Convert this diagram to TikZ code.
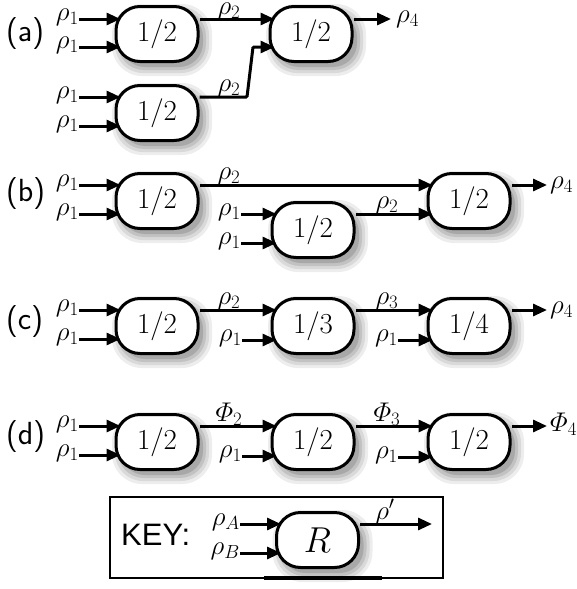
\RequirePackage{fix-cm}
\documentclass[tikz,border=0pt]{standalone}
\usepackage{amsmath}
\usepackage{fontspec}
\newfontfamily\keyfont{Liberation Sans}
\usetikzlibrary{arrows.meta,calc}
\definecolor{sh1}{gray}{0.93}
\definecolor{sh2}{gray}{0.85}
\definecolor{sh3}{gray}{0.76}
\definecolor{sh4}{gray}{0.66}
\tikzset{
  boxline/.style={draw, line width=3pt, fill=white, line join=round},
  boxtext/.style={line width=3pt, minimum width=82pt, minimum height=55pt, inner sep=0pt,
    font=\fontsize{29}{34}\selectfont},
  arr/.style={line width=3pt, -{Triangle[length=14pt,width=12pt]}, shorten >=-6pt},
  outarr/.style={line width=3pt, -{Triangle[length=14pt,width=12pt]}},
  lab/.style={inner sep=0pt, font=\fontsize{27}{32}\selectfont},
  tag/.style={inner sep=0pt, anchor=west, font=\fontsize{32}{36}\selectfont\sffamily},
}
\newcommand{\inarrow}[5]{%
  \coordinate (#1) at (#2,#3);
  \node[lab, anchor=base east] (#1t) at ($(#1)+(0,1)$) {#5};
  \draw[arr] (#1) -- (#1 -| #4.west);
}
% soft shadow under a box centred at (#1,#2), drawn before the box
\newcommand{\shbox}[2]{%
  \fill[sh1, rounded corners=30pt] (#1-43+5-7,#2-29+6-7) rectangle (#1+43+5+7,#2+29+6+7);
  \fill[sh2, rounded corners=28pt] (#1-43+5-4,#2-29+6-4) rectangle (#1+43+5+4,#2+29+6+4);
  \fill[sh3, rounded corners=26pt] (#1-43+5-1,#2-29+6-1) rectangle (#1+43+5+1,#2+29+6+1);
  \fill[sh4, rounded corners=24pt] (#1-43+5+2,#2-29+6+2) rectangle (#1+43+5-2,#2+29+6-2);
}
% rounded box (corner radius 24) with its named text node
\newcommand{\boxat}[5][]{%
  \draw[boxline] (#3-41,#4) -- (#3-41,#4-3.5)
    .. controls (#3-41,#4-16.75) and (#3-30.25,#4-27.5) .. (#3-17,#4-27.5)
    -- (#3+17,#4-27.5)
    .. controls (#3+30.25,#4-27.5) and (#3+41,#4-16.75) .. (#3+41,#4-3.5)
    -- (#3+41,#4+3.5)
    .. controls (#3+41,#4+16.75) and (#3+30.25,#4+27.5) .. (#3+17,#4+27.5)
    -- (#3-17,#4+27.5)
    .. controls (#3-30.25,#4+27.5) and (#3-41,#4+16.75) .. (#3-41,#4+3.5)
    -- cycle;
  \node[boxtext,#1] (#2) at (#3,#4) {#5};
}
\begin{document}
\begin{tikzpicture}[x=1pt,y=-1pt]
\useasboundingbox (0,0) rectangle (576,589);

% ---------- shadows ----------
\shbox{157}{34}\shbox{311}{34}\shbox{157}{113}
\shbox{157}{201}\shbox{313}{230}\shbox{469}{201}
\shbox{157}{326}\shbox{313}{326}\shbox{469}{326}
\shbox{157}{442}\shbox{313}{442}\shbox{469}{442}
\shbox{317.5}{540}

% ---------- (a) ----------
\node[tag] (ta) at (6,34) {(a)};
\boxat{a1}{157}{34}{$1/2$}
\boxat{a2}{311}{34}{$1/2$}
\boxat{a3}{157}{113}{$1/2$}
\inarrow{a1u}{79}{19}{a1}{$\rho_1$}
\inarrow{a1l}{79}{47}{a1}{$\rho_1$}
\inarrow{a3u}{79}{97}{a3}{$\rho_1$}
\inarrow{a3l}{79}{126}{a3}{$\rho_1$}
\draw[arr] (a1.east |- a1u) -- (a2.west |- a1u);
\node[lab, anchor=base] (la12) at (229,14) {$\rho_2$};
\coordinate (k1) at (247,97);
\coordinate (k2) at (253,47);
\draw[arr, rounded corners=1pt] (a3.east |- a3u) -- (k1) -- (k2) -- (a2.west |- k2);
\node[lab, anchor=base] (la32) at (229,91) {$\rho_2$};
\coordinate (oa) at (391,19);
\draw[outarr] (a2.east |- oa) -- (oa);
\node[lab, anchor=base west] (la4) at (396,22) {$\rho_4$};

% ---------- (b) ----------
\node[tag] (tb) at (6,194) {(b)};
\boxat{b1}{157}{201}{$1/2$}
\boxat{b2}{313}{230}{$1/2$}
\boxat{b3}{469}{201}{$1/2$}
\inarrow{b1u}{79}{185}{b1}{$\rho_1$}
\inarrow{b1l}{79}{214}{b1}{$\rho_1$}
\inarrow{b2u}{241}{214}{b2}{$\rho_1$}
\inarrow{b2l}{241}{243}{b2}{$\rho_1$}
\draw[arr] (b1.east |- b1u) -- (b3.west |- b1u);
\node[lab, anchor=base] (lb13) at (229,179) {$\rho_2$};
\draw[arr] (b2.east |- b2u) -- (b3.west |- b2u);
\node[lab, anchor=base] (lb23) at (387,208) {$\rho_2$};
\coordinate (ob) at (547,185);
\draw[outarr] (b3.east |- ob) -- (ob);
\node[lab, anchor=base west] (lb4) at (550,188) {$\rho_4$};

% ---------- (c) ----------
\node[tag] (tc) at (6,322) {(c)};
\boxat{c1}{157}{326}{$1/2$}
\boxat{c2}{313}{326}{$1/3$}
\boxat{c3}{469}{326}{$1/4$}
\inarrow{c1u}{79}{310}{c1}{$\rho_1$}
\inarrow{c1l}{79}{339}{c1}{$\rho_1$}
\inarrow{c2l}{242}{340}{c2}{$\rho_1$}
\inarrow{c3l}{398}{340}{c3}{$\rho_1$}
\draw[arr] (c1.east |- c1u) -- (c2.west |- c1u);
\node[lab, anchor=base] (lc12) at (229,304) {$\rho_2$};
\draw[arr] (c2.east |- c1u) -- (c3.west |- c1u);
\node[lab, anchor=base] (lc23) at (387,304) {$\rho_3$};
\coordinate (oc) at (547,310);
\draw[outarr] (c3.east |- oc) -- (oc);
\node[lab, anchor=base west] (lc4) at (550,313) {$\rho_4$};

% ---------- (d) ----------
\node[tag] (td) at (6,437) {(d)};
\boxat{d1}{157}{442}{$1/2$}
\boxat{d2}{313}{442}{$1/2$}
\boxat{d3}{469}{442}{$1/2$}
\inarrow{d1u}{79}{426}{d1}{$\rho_1$}
\inarrow{d1l}{79}{455}{d1}{$\rho_1$}
\inarrow{d2l}{242}{456}{d2}{$\rho_1$}
\inarrow{d3l}{398}{457}{d3}{$\rho_1$}
\draw[arr] (d1.east |- d1u) -- (d2.west |- d1u);
\node[lab, anchor=base] (ld12) at (229,421) {$\varPhi_2$};
\draw[arr] (d2.east |- d1u) -- (d3.west |- d1u);
\node[lab, anchor=base] (ld23) at (387,421) {$\varPhi_3$};
\coordinate (od) at (547,426);
\draw[outarr] (d3.east |- od) -- (od);
\node[lab, anchor=base west] (ld4) at (550,431) {$\varPhi_4$};

% ---------- KEY ----------
\draw[line width=2.2pt] (110,497) rectangle (443,578);
\draw[line width=4.5pt] (264,578) -- (382,578);
\node[inner sep=0pt, anchor=base west, font=\fontsize{31}{36}\selectfont\keyfont] (key) at (121,545) {KEY:};
\boxat[font=\fontsize{36}{42}\selectfont]{R}{317.5}{540}{$R$}
\inarrow{ka}{240}{524}{R}{$\rho_A$}
\inarrow{kb}{240}{553}{R}{$\rho_B$}
\coordinate (ok) at (432,524);
\draw[outarr] (R.east |- ok) -- (ok);
\node[lab, anchor=base] (lk) at (385,519) {$\rho'$};
\end{tikzpicture}
\end{document}
